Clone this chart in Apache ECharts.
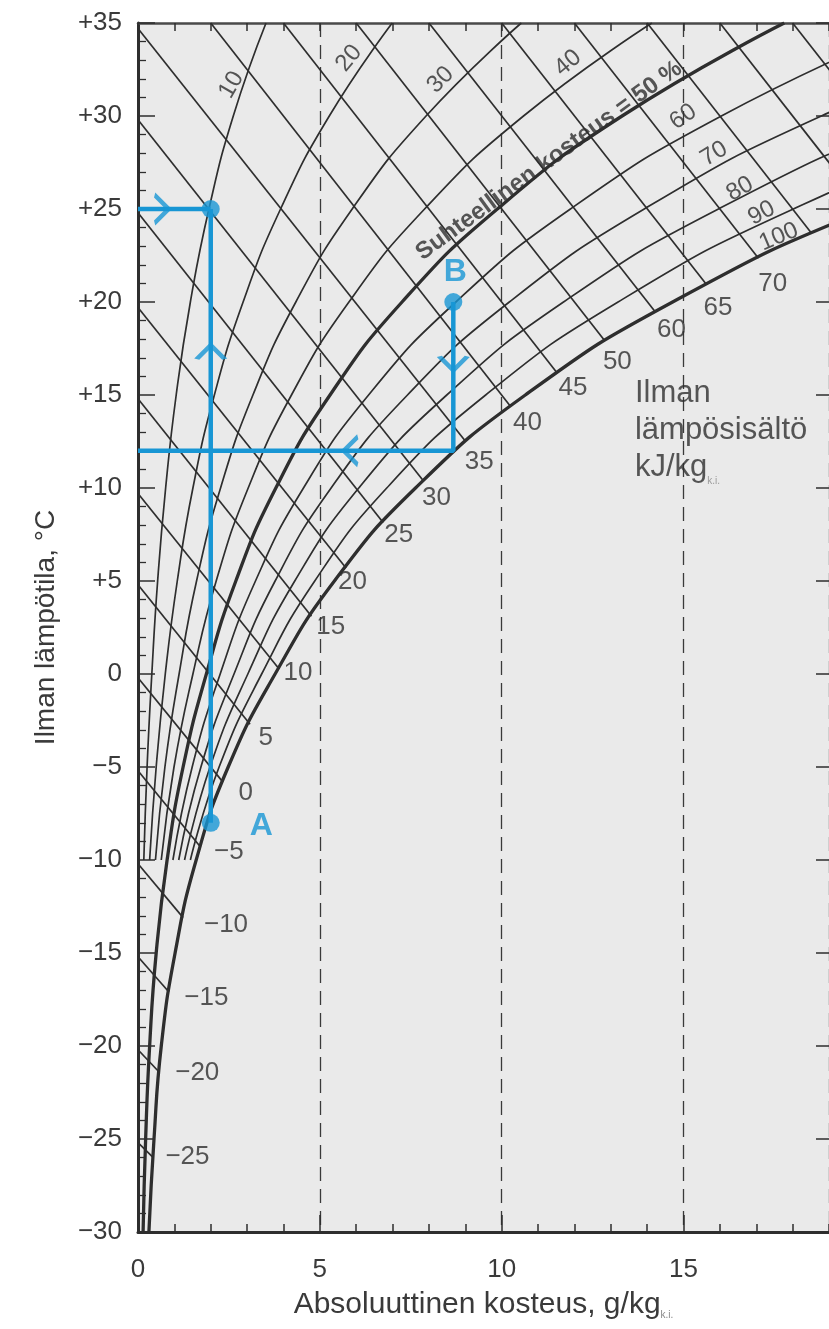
<!DOCTYPE html>
<html>
<head>
<meta charset="utf-8">
<title>Mollier h,x</title>
<script src="https://cdn.jsdelivr.net/npm/echarts@6/dist/echarts.min.js"></script>
<style>
  html, body { margin: 0; padding: 0; background: #fff; }
  #main { width: 829px; height: 1329px; }
</style>
</head>
<body>
<div id="main"></div>
<script>
// temperature steps (°C) at which the humidity curves were read
var tempSteps = [-30, -25, -20, -15, -10, -5, 0, 5, 10, 15, 20, 25, 30, 35];

// absolute humidity (g/kg) of each relative humidity curve at tempSteps
var rh10  = [null, null, null, null, 0.16, 0.25, 0.38, 0.54, 0.76, 1.05, 1.44, 1.95, 2.62, 3.52];
var rh20  = [null, null, null, null, 0.32, 0.50, 0.75, 1.08, 1.51, 2.10, 2.89, 3.92, 5.26, 6.99];
var rh30  = [null, null, null, null, 0.48, 0.74, 1.13, 1.61, 2.27, 3.16, 4.34, 5.89, 7.92, 10.54];
var rh40  = [null, null, null, null, 0.64, 0.99, 1.51, 2.15, 3.03, 4.22, 5.80, 7.88, 10.60, 14.13];
var rh50  = [0.14, 0.21, 0.32, 0.50, 0.80, 1.24, 1.88, 2.69, 3.79, 5.28, 7.26, 9.88, 13.31, 17.77];
var rh60  = [null, null, null, null, 0.96, 1.49, 2.26, 3.23, 4.55, 6.34, 8.74, 11.89, 16.04, 21.44];
var rh70  = [null, null, null, null, 1.12, 1.73, 2.64, 3.77, 5.31, 7.41, 10.21, 13.92, 18.79, 25.16];
var rh80  = [null, null, null, null, 1.28, 1.98, 3.02, 4.31, 6.07, 8.49, 11.70, 15.96, 21.58, 28.92];
var rh90  = [null, null, null, null, 1.44, 2.23, 3.40, 4.86, 6.84, 9.56, 13.20, 18.02, 24.38, 32.80];
var rh100 = [0.30, 0.44, 0.64, 1.02, 1.60, 2.48, 3.77, 5.40, 7.63, 10.65, 14.70, 20.08, 27.20, 36.58];

// enthalpy lines kJ/kg: start (left edge or top edge) and end on the saturation curve
var hLevels = [-25, -20, -15, -10, -5, 0, 5, 10, 15, 20, 25, 30, 35, 40, 45, 50, 55, 60, 65, 70, 75, 80];
var hStartX = [0, 0, 0, 0, 0, 0, 0, 0, 0, 0, 0, 0, 0, 2, 4, 6, 8, 10, 12, 14, 16, 18];
var hStartT = [-25.2, -20.2, -15.2, -10.2, -5.2, -0.2, 4.8, 9.7, 14.8, 19.7, 24.8, 29.8, 34.7, 35, 35, 35, 35, 35, 35, 35, 35, 35];
var hEndX = [0.42, 0.58, 0.85, 1.24, 1.72, 2.33, 3.08, 3.87, 4.77, 5.72, 6.74, 7.84, 9.01, 10.24, 11.52, 12.84, 14.21, 15.61, 17.06, 18.52, 20.02, 21.55];
var hEndT = [-26.0, -21.4, -17.1, -13.1, -9.3, -5.8, -2.7, 0.3, 3.1, 5.7, 8.15, 10.4, 12.5, 14.4, 16.2, 17.9, 19.5, 21.0, 22.35, 23.7, 24.95, 26.15];

// enthalpy labels and where they sit (x g/kg, T °C)
var hLabelText = ['70', '65', '60', '50', '45', '40', '35', '30', '25', '20', '15', '10', '5', '0', '\u22125', '\u221210', '\u221215', '\u221220', '\u221225'];
var hLabelX = [17.45, 15.95, 14.67, 13.18, 11.96, 10.71, 9.38, 8.21, 7.17, 5.90, 5.30, 4.40, 3.51, 2.96, 2.50, 2.42, 1.88, 1.63, 1.36];
var hLabelT = [21.0, 19.7, 18.5, 16.8, 15.4, 13.5, 11.4, 9.46, 7.47, 4.95, 2.53, 0.05, -3.44, -6.4, -9.57, -13.49, -17.42, -21.45, -25.97];

// relative humidity labels
var rhLabelText = ['10', '20', '30', '40', '60', '70', '80', '90', '100'];
var rhLabelX = [2.57, 5.80, 8.32, 11.82, 14.99, 15.84, 16.55, 17.15, 17.62];
var rhLabelT = [31.67, 33.1, 31.94, 32.85, 29.95, 27.96, 26.08, 24.78, 23.5];
var rhLabelRot = [60, 50, 45, 40, 35, 31, 30, 28, 23];

// process example A -> B (blue)
var pathIn = [[0, 25], [2, 25]];
var pathUp = [[2, -8], [2, 25]];
var pathB = [[8.67, 20], [8.67, 12], [0, 12]];
var pointA = [2, -8];
var pointTop = [2, 25];
var pointB = [8.67, 20];
var arrowAt = [[0.65, 25], [2, 17.3], [8.67, 16.7], [5.85, 12]];
var arrowDir = [0, 90, -90, 180];

var font = 'Liberation Sans, Arial, Helvetica, sans-serif';
var ink = '#2e2e2e';
var blue = '#1896d4';

var myChart = echarts.init(document.getElementById('main'));

function curve(xs) {
    var pts = [];
    for (var i = 0; i < tempSteps.length; i++) {
        if (xs[i] != null) pts.push([xs[i], tempSteps[i]]);
    }
    return pts;
}

function rhSeries(xs, width) {
    return {
        type: 'line', data: curve(xs), smooth: 0.5, symbol: 'none', silent: true, z: 2,
        lineStyle: { color: ink, width: width }
    };
}

function textItem(x, t, text, extra) {
    var label = { show: true, position: 'inside', formatter: text, fontFamily: font, color: ink };
    for (var k in extra) label[k] = extra[k];
    return { value: [x, t], label: label };
}

function tempLabel(v) {
    if (v > 0) return '+' + v;
    if (v < 0) return '\u2212' + (-v);
    return '0';
}

var series = [
    rhSeries(rh10, 1.7), rhSeries(rh20, 1.7), rhSeries(rh30, 1.7), rhSeries(rh40, 1.7),
    rhSeries(rh50, 3.3),
    rhSeries(rh60, 1.7), rhSeries(rh70, 1.7), rhSeries(rh80, 1.7), rhSeries(rh90, 1.7),
    rhSeries(rh100, 3.3),
    {
        type: 'lines', coordinateSystem: 'cartesian2d', silent: true, z: 2, clip: true,
        lineStyle: { color: ink, width: 1.7, opacity: 1 },
        data: hLevels.map(function (h, i) {
            return { coords: [[hStartX[i], hStartT[i]], [hEndX[i], hEndT[i]]] };
        })
    }
];

// labels on the chart
var texts = [];
hLabelText.forEach(function (s, i) {
    texts.push(textItem(hLabelX[i], hLabelT[i], s, { fontSize: 26 }));
});
rhLabelText.forEach(function (s, i) {
    texts.push(textItem(rhLabelX[i], rhLabelT[i], s, { fontSize: 24, rotate: rhLabelRot[i] }));
});
texts.push(textItem(11.30, 27.6, 'Suhteellinen kosteus = 50 %', { fontSize: 24, fontWeight: 'bold', rotate: 36 }));
texts.push(textItem(13.65, 13.1, 'Ilman\nl\u00e4mp\u00f6sis\u00e4lt\u00f6\n{m|kJ/kg}{s|k.i.}', {
    position: 'right', distance: 0, align: 'left', fontSize: 31, lineHeight: 37,
    rich: {
        m: { fontSize: 31, fontFamily: font, color: ink, lineHeight: 37 },
        s: { fontSize: 10, fontFamily: font, color: '#888', verticalAlign: 'bottom', lineHeight: 30 }
    }
}));
series.push({
    type: 'scatter', silent: true, z: 6, symbolSize: 1,
    itemStyle: { color: 'rgba(0,0,0,0)' },
    data: texts
});

// blue process
[pathIn, pathUp, pathB].forEach(function (p) {
    series.push({
        type: 'line', data: p, symbol: 'none', silent: true, z: 10,
        lineStyle: { color: blue, width: 4.5 }
    });
});
series.push({
    type: 'scatter', silent: true, z: 11, symbolSize: 18,
    itemStyle: { color: blue },
    data: [
        { value: pointTop },
        { value: pointA, label: { show: true, formatter: 'A', position: 'right', distance: 30, offset: [0, 3], fontSize: 32, fontWeight: 'bold', color: blue, fontFamily: font } },
        { value: pointB, label: { show: true, formatter: 'B', position: 'top', distance: 5, offset: [2, 0], fontSize: 32, fontWeight: 'bold', color: blue, fontFamily: font } }
    ]
});
series.push({
    type: 'scatter', silent: true, z: 11,
    symbol: 'path://M0,0L12,13L0,26', symbolSize: [14, 28],
    itemStyle: { color: 'none', borderColor: blue, borderWidth: 4 },
    data: arrowAt.map(function (p, i) {
        return { value: p, symbolRotate: arrowDir[i] };
    })
});

var option = {
    backgroundColor: '#fff',
    animation: false,
    grid: {
        left: 138, right: -3, top: 23, bottom: 97,
        show: true, backgroundColor: '#eaeaea', borderWidth: 0
    },
    xAxis: [{
        type: 'value', min: 0, max: 19, interval: 5, position: 'bottom',
        axisLine: { show: true, onZero: false, lineStyle: { color: ink, width: 3 } },
        axisTick: { show: true, inside: true, length: 17, lineStyle: { color: ink, width: 1.5 } },
        axisLabel: { fontSize: 26, color: '#3a3a3a', margin: 25, fontFamily: font, showMaxLabel: false },
        splitLine: { show: true, lineStyle: { type: [14, 8], color: '#3a3a3a', width: 1.3 } },
        name: '{m|Absoluuttinen kosteus, g/kg}{s|k.i.}',
        nameLocation: 'middle', nameGap: 58,
        nameTextStyle: {
            rich: {
                m: { fontSize: 30, fontFamily: font, color: '#3a3a3a' },
                s: { fontSize: 10, fontFamily: font, color: '#888', verticalAlign: 'bottom', padding: [12, 0, 0, 0] }
            }
        }
    }, {
        type: 'value', min: 0, max: 19, interval: 1, position: 'bottom',
        axisLine: { show: false, onZero: false },
        axisTick: { show: true, inside: true, length: 8, lineStyle: { color: ink, width: 1.5 } },
        axisLabel: { show: false }, splitLine: { show: false }
    }, {
        type: 'value', min: 0, max: 19, interval: 1, position: 'top',
        axisLine: { show: true, onZero: false, lineStyle: { color: '#4a4a4a', width: 2.5 } },
        axisTick: { show: true, inside: true, length: 8, lineStyle: { color: ink, width: 1.5 } },
        axisLabel: { show: false }, splitLine: { show: false }
    }],
    yAxis: [{
        type: 'value', min: -30, max: 35, interval: 5, position: 'left',
        axisLine: { show: true, onZero: false, lineStyle: { color: ink, width: 3 } },
        axisTick: { show: true, inside: true, length: 17, lineStyle: { color: ink, width: 1.5 } },
        minorTick: { show: true, splitNumber: 5, length: 8, lineStyle: { color: ink, width: 1.3 } },
        axisLabel: { fontSize: 26, color: '#3a3a3a', margin: 16, fontFamily: font, formatter: tempLabel },
        splitLine: { show: false },
        name: 'Ilman l\u00e4mp\u00f6tila, \u00b0C',
        nameLocation: 'middle', nameGap: 78,
        nameTextStyle: { fontSize: 28, color: '#3a3a3a', fontFamily: font }
    }, {
        type: 'value', min: -30, max: 35, interval: 5, position: 'right',
        axisLine: { show: false, onZero: false },
        axisTick: { show: true, inside: true, length: 13, lineStyle: { color: ink, width: 1.5 } },
        axisLabel: { show: false }, splitLine: { show: false }
    }],
    series: series
};

myChart.setOption(option);
</script>
</body>
</html>
